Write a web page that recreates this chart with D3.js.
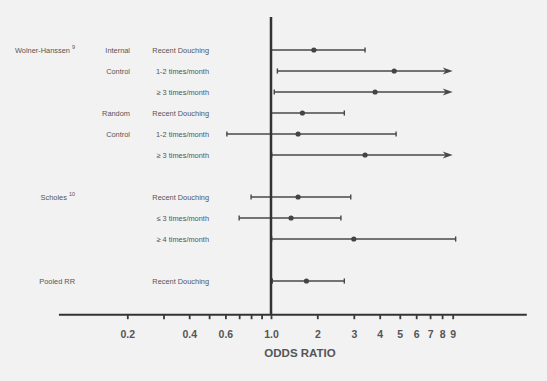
<!DOCTYPE html>
<html>
<head>
<meta charset="utf-8">
<script src="https://cdn.jsdelivr.net/npm/d3@7"></script>
<style>
  body { margin: 0; background: #f2f2f2; }
  svg { display: block; font-family: "Liberation Sans", Arial, sans-serif; }
</style>
</head>
<body>
<div id="chart"></div>
<script>
/* Forest plot: douching and odds ratio */

// study groups (column 1), design (column 2), exposure (column 3)
const studies = ["Wolner-Hanssen", "Wolner-Hanssen", "Wolner-Hanssen", "Wolner-Hanssen", "Wolner-Hanssen", "Wolner-Hanssen",
                 "Scholes", "Scholes", "Scholes", "Pooled RR"];
const studyRefs = { "Wolner-Hanssen": "9", "Scholes": "10", "Pooled RR": "" };
const designs = ["Internal", "Control", "", "Random", "Control", "", "", "", "", ""];
const exposures = ["Recent Douching", "1-2 times/month", "\u2265 3 times/month",
                   "Recent Douching", "1-2 times/month", "\u2265 3 times/month",
                   "Recent Douching", "\u2264 3  times/month", "\u2265 4 times/month",
                   "Recent Douching"];

// odds ratios with lower / upper limits (upper off the scale is drawn as an arrow)
const oddsRatio = [1.9, 4.7, 3.8, 1.6, 1.5, 3.4, 1.5, 1.35, 3.0, 1.7];
const lowerCI   = [1.0, 1.1, 1.05, 1.0, 0.61, 1.01, 0.8, 0.7, 1.01, 1.02];
const upperCI   = [3.4, 15, 15, 2.7, 4.8, 15, 2.9, 2.6, 9.3, 2.7];

// x axis ticks
const tickValues = [0.2, 0.3, 0.4, 0.5, 0.6, 0.7, 0.8, 0.9, 1, 2, 3, 4, 5, 6, 7, 8, 9];
const tickLabels = { 0.2: "0.2", 0.4: "0.4", 0.6: "0.6", 1: "1.0", 2: "2", 3: "3", 4: "4",
                     5: "5", 6: "6", 7: "7", 8: "8", 9: "9" };
const axisExtent = [0.093, 20.5];
const arrowAt = 9, offScale = 10;

const width = 547, height = 381;

const svg = d3.select("#chart").append("svg")
    .attr("width", width)
    .attr("height", height);

// the printed scale is log, but the 1-2 gap is drawn narrower
const x = d3.scaleLog()
    .domain([0.2, 1, 2, 9])
    .range([127.3, 271, 317.3, 452.7]);

// row keys, with an empty slot between studies
const rowKeys = [];
studies.forEach((s, i) => {
    if (i > 0 && s !== studies[i - 1]) rowKeys.push("gap" + i);
    rowKeys.push("row" + i);
});
const y = d3.scalePoint().domain(rowKeys).range([50, 281]);

const rows = studies.map((s, i) => ({
    study: s, design: designs[i], exposure: exposures[i],
    or: oddsRatio[i], lo: lowerCI[i], hi: upperCI[i], key: "row" + i
}));

const textCol = "#555", lineCol = "#484848";

// column 1: study names (first row of each study only)
const firstRows = rows.filter((d, i) => i === 0 || d.study !== rows[i - 1].study);
const names = svg.append("g")
    .attr("font-size", 7.4)
    .attr("fill", textCol)
    .attr("text-anchor", "end")
    .selectAll("text")
    .data(firstRows)
    .join("text")
    .attr("x", 75)
    .attr("y", d => y(d.key) + 2.6);
names.append("tspan").text(d => d.study);
names.append("tspan")
    .attr("font-size", 5.5)
    .attr("dx", d => studyRefs[d.study] ? 2 : 0)
    .attr("dy", -4)
    .text(d => studyRefs[d.study]);

// column 2 and 3
svg.append("g")
    .attr("font-size", 7.4)
    .attr("fill", textCol)
    .attr("text-anchor", "end")
    .selectAll("text")
    .data(rows.filter(d => d.design))
    .join("text")
    .attr("x", 130)
    .attr("y", d => y(d.key) + 2.6)
    .text(d => d.design);

svg.append("g")
    .attr("font-size", 7.4)
    .attr("fill", textCol)
    .attr("text-anchor", "end")
    .selectAll("text")
    .data(rows)
    .join("text")
    .attr("x", 209)
    .attr("y", d => y(d.key) + 2.6)
    .text(d => d.exposure);

// x axis
const axisY = 314.7;
svg.append("line")
    .attr("x1", x(axisExtent[0]))
    .attr("x2", x(axisExtent[1]))
    .attr("y1", axisY)
    .attr("y2", axisY)
    .attr("stroke", "#333")
    .attr("stroke-width", 2);

const axis = svg.append("g")
    .attr("transform", `translate(0,${axisY})`)
    .call(d3.axisBottom(x)
        .tickValues(tickValues)
        .tickFormat(d => tickLabels[d] || "")
        .tickSizeInner(4.5)
        .tickSizeOuter(0)
        .tickPadding(11));
axis.select(".domain").remove();
axis.selectAll(".tick line").attr("stroke", "#3a3a3a").attr("stroke-width", 1.8);
axis.selectAll(".tick text")
    .attr("font-size", 10.5)
    .attr("font-weight", "bold")
    .attr("font-family", "Liberation Sans, Arial, sans-serif")
    .attr("fill", "#555");

svg.append("text")
    .attr("x", 300)
    .attr("y", 357)
    .attr("text-anchor", "middle")
    .attr("font-size", 11.5)
    .attr("font-weight", "bold")
    .attr("fill", "#555")
    .text("ODDS RATIO");

// error bars
const bars = svg.append("g")
    .attr("stroke", lineCol)
    .attr("stroke-width", 1.4)
    .selectAll("g")
    .data(rows)
    .join("g")
    .attr("transform", d => `translate(0,${y(d.key)})`);

bars.append("line")
    .attr("x1", d => x(d.lo))
    .attr("x2", d => d.hi > offScale ? x(arrowAt) - 6 : x(d.hi))
    .attr("y1", 0).attr("y2", 0);

bars.append("line")
    .attr("x1", d => x(d.lo)).attr("x2", d => x(d.lo))
    .attr("y1", -2.6).attr("y2", 2.6);

bars.filter(d => d.hi <= offScale)
    .append("line")
    .attr("x1", d => x(d.hi)).attr("x2", d => x(d.hi))
    .attr("y1", -2.6).attr("y2", 2.6);

bars.filter(d => d.hi > offScale)
    .append("path")
    .attr("stroke", "none")
    .attr("fill", lineCol)
    .attr("d", () => {
        const t = x(arrowAt);
        return `M${t},0L${t - 10},-3.4L${t - 7},0L${t - 10},3.4Z`;
    });

bars.append("circle")
    .attr("cx", d => x(d.or))
    .attr("cy", 0)
    .attr("r", 2.6)
    .attr("stroke", "none")
    .attr("fill", "#444");

// reference line at 1
svg.append("line")
    .attr("x1", x(1)).attr("x2", x(1))
    .attr("y1", 17).attr("y2", axisY)
    .attr("stroke", "#333")
    .attr("stroke-width", 2.5);
</script>
</body>
</html>
